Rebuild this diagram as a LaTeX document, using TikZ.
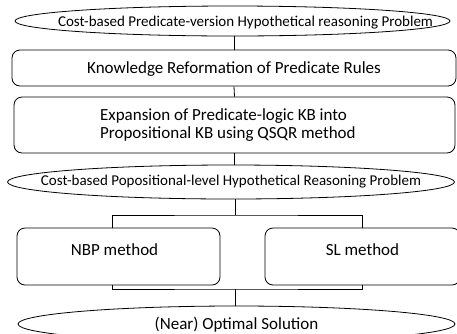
\documentclass[tikz,border=0pt]{standalone}
\usepackage{fontspec}
\setmainfont{Carlito}
\usetikzlibrary{shapes.geometric}

\tikzset{
  probl/.style = {draw, ellipse, line width=0.8pt, inner sep=0pt},
  stepbox/.style = {draw, rectangle, rounded corners=8pt, line width=0.8pt, inner sep=0pt},
  link/.style = {line width=0.8pt},
  bigtext/.style = {font=\fontsize{17}{18.4}\selectfont},
  smalltext/.style = {font=\fontsize{15}{18}\selectfont}
}

\begin{document}
\begin{tikzpicture}[x=1pt, y=-1pt]
\clip (0,0) rectangle (457,333);

\node[probl, minimum width=435pt, minimum height=30pt,
  label={[smalltext, xshift=13pt, yshift=-2pt]center:Cost-based Predicate-version Hypothetical reasoning Problem}] (pred) at (232.5, 21) {};
\node[stepbox, minimum width=444pt, minimum height=36pt,
  label={[bigtext, yshift=-1pt]center:Knowledge Reformation of Predicate Rules}] (reform) at (234, 68) {};
\node[stepbox, minimum width=441pt, minimum height=56pt,
  label={[bigtext, align=left, anchor=west, xshift=83pt]west:Expansion of Predicate-logic KB into\\Propositional KB using QSQR method}] (expand) at (234.5, 125) {};
\node[probl, minimum width=447pt, minimum height=34pt,
  label={[smalltext]center:Cost-based Popositional-level Hypothetical Reasoning Problem}] (prop) at (231, 182) {};
\node[stepbox, minimum width=203pt, minimum height=57pt,
  label={[bigtext, xshift=-4pt, yshift=7pt]center:NBP method}] (nbp) at (118.5, 256.5) {};
\node[stepbox, minimum width=195pt, minimum height=57pt,
  label={[bigtext, yshift=7pt]center:SL method}] (sl) at (362.5, 256.5) {};
\node[probl, minimum width=437pt, minimum height=36pt,
  label={[bigtext, yshift=-1pt]center:(Near) Optimal Solution}] (sol) at (236.5, 324) {};

% connectors
\coordinate (split) at (235, 215);
\coordinate (merge) at (235, 289);
\draw[link] (reform.north) -- (reform.north |- pred.south);
\draw[link] (reform.south) -- (expand.north);
\draw[link] (expand.south) -- (expand.south |- prop.north);
\draw[link] (split |- prop.south) -- (split);
\draw[link] ([xshift=-6pt]nbp.north) |- (split) -| (sl.north);
\draw[link] ([xshift=-6pt]nbp.south) |- (merge) -| (sl.south);
\draw[link] (merge) -- (merge |- sol.north);
\end{tikzpicture}
\end{document}
